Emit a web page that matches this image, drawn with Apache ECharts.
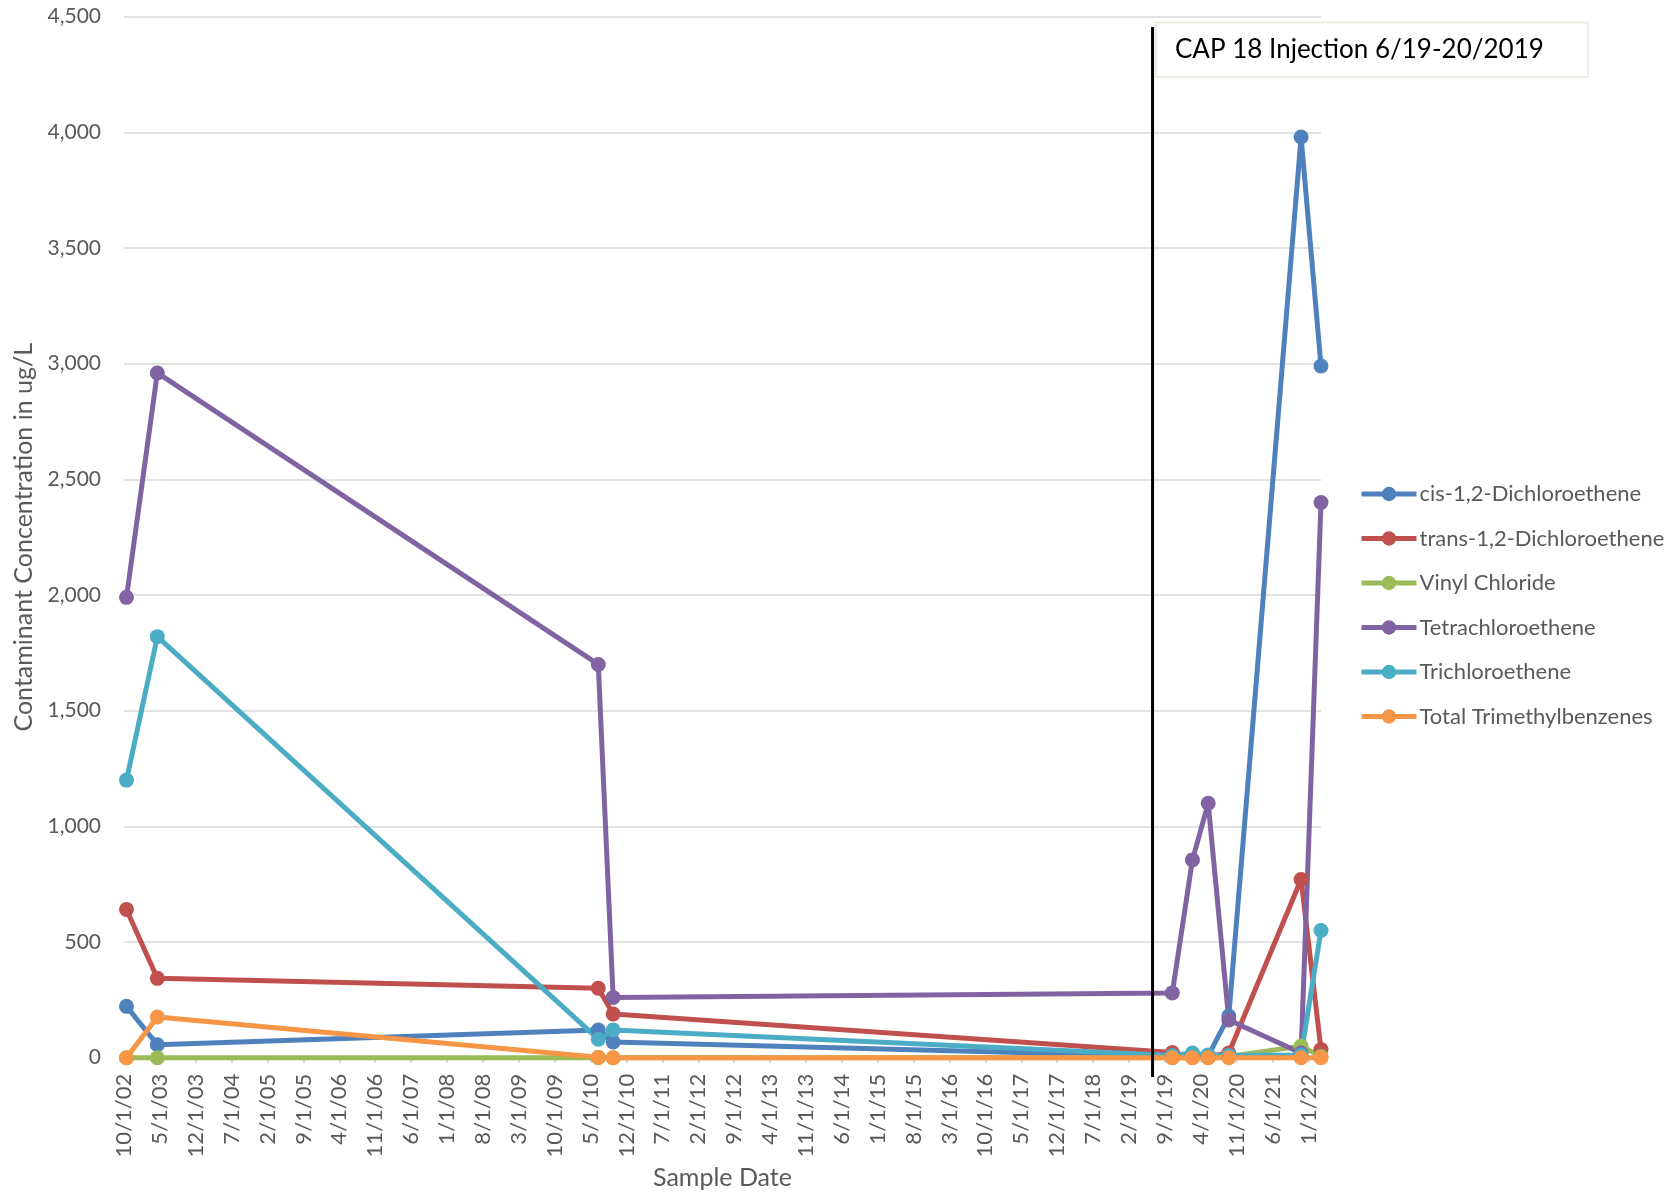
<!DOCTYPE html>
<html>
<head>
<meta charset="utf-8">
<title>Contaminant Concentrations</title>
<script src="https://cdn.jsdelivr.net/npm/echarts@6/dist/echarts.min.js"></script>
<style>
  html, body { margin: 0; padding: 0; background: #ffffff; }
  #chart { width: 1677px; height: 1193px; }
</style>
</head>
<body>
<div id="chart"></div>
<script>
// Sampling dates and measured concentrations (ug/L)
const sampleDates = ['2002-10-16', '2003-04-16', '2010-06-16', '2010-09-13', '2019-10-15',
                     '2020-02-12', '2020-05-15', '2020-09-15', '2021-11-18', '2022-03-15'];
const cisDCE        = [222,   56, 120,  68,   5,   5,    8, 180, 3980, 2990];
const transDCE      = [641,  343, 300, 189,  22,   5,    5,  20,  770,   35];
const vinylChloride = [  0,    0,   0,   0,   0,   0,    0,   5,   50,    5];
const pce           = [1990, 2960, 1700, 260, 280, 855, 1100, 163,   20, 2400];
const tce           = [1200, 1820,  80, 120,  10,  20,   12,  10,   12,  550];
const tmb           = [  0,  176,   2,   0,   0,   0,    0,   0,    0,    0];

const seriesNames = ['cis-1,2-Dichloroethene', 'trans-1,2-Dichloroethene', 'Vinyl Chloride',
                     'Tetrachloroethene', 'Trichloroethene', 'Total Trimethylbenzenes'];
const seriesColors = ['#4F81BD', '#C0504D', '#9BBB59', '#8064A2', '#4BACC6', '#F79646'];

const injectionDate = '2019-06-19';
const injectionText = 'CAP 18 Injection 6/19-20/2019';

// Axis start (10/1/02) and tick spacing in months
const axisStartYear = 2002, axisStartMonth = 10, tickMonths = 7, tickCount = 34;

// Months elapsed since the axis start, with the day as a fraction of its month
function monthOffset(s) {
  const [y, m, d] = s.split('-').map(Number);
  const daysInMonth = new Date(y, m, 0).getDate();
  return (y - axisStartYear) * 12 + (m - axisStartMonth) + (d - 1) / daysInMonth;
}
function offsetLabel(k) {
  const total = axisStartYear * 12 + (axisStartMonth - 1) + Math.round(k);
  const y = Math.floor(total / 12), mo = total % 12 + 1;
  return mo + '/1/' + String(y % 100).padStart(2, '0');
}

const xs = sampleDates.map(monthOffset);
const tickValues = Array.from({ length: tickCount }, (_, i) => i * tickMonths);
const seriesValues = [cisDCE, transDCE, vinylChloride, pce, tce, tmb];

const font = 'Lato, "Open Sans", sans-serif';
const grey = '#595959';

const chart = echarts.init(document.getElementById('chart'), null, { renderer: 'canvas' });

chart.setOption({
  animation: false,
  backgroundColor: '#ffffff',
  textStyle: { fontFamily: font },
  grid: { left: 124, right: 356, top: 16.7, bottom: 135.3, containLabel: false, outerBoundsMode: 'none' },
  xAxis: {
    type: 'value',
    min: 0,
    max: xs[xs.length - 1],
    interval: tickMonths,
    name: 'Sample Date',
    nameLocation: 'middle',
    nameGap: 107,
    nameTextStyle: { fontFamily: font, fontSize: 25, color: grey },
    splitLine: { show: false },
    axisLine: { show: true, lineStyle: { color: '#D9D9D9', width: 1.5 } },
    axisTick: { show: true, length: 5, inside: false, customValues: tickValues,
                lineStyle: { color: '#D9D9D9', width: 2 } },
    axisLabel: {
      customValues: tickValues,
      rotate: 90,
      margin: 16,
      fontFamily: font,
      fontSize: 22,
      color: grey,
      formatter: offsetLabel
    }
  },
  yAxis: {
    type: 'value',
    min: 0,
    max: 4500,
    interval: 500,
    name: 'Contaminant Concentration in ug/L',
    nameLocation: 'middle',
    nameGap: 88,
    nameTextStyle: { fontFamily: font, fontSize: 25, color: grey },
    axisLine: { show: false },
    axisTick: { show: false },
    splitLine: { show: true, lineStyle: { color: '#D9D9D9', width: 1.5 } },
    axisLabel: { margin: 23, fontFamily: font, fontSize: 21, color: grey }
  },
  legend: {
    orient: 'vertical',
    left: 1359,
    top: 483,
    padding: 0,
    itemWidth: 55,
    itemHeight: 18,
    itemGap: 22.5,
    lineStyle: { width: 5 },
    textStyle: { fontFamily: font, fontSize: 22, lineHeight: 18, color: grey, padding: [0, 0, 0, -2] },
    data: seriesNames
  },
  series: seriesNames.map((name, i) => ({
    name: name,
    type: 'line',
    data: xs.map((x, j) => [x, seriesValues[i][j]]),
    symbol: 'circle',
    symbolSize: 15,
    showSymbol: true,
    color: seriesColors[i],
    lineStyle: { width: 5, color: seriesColors[i] },
    itemStyle: { color: seriesColors[i] },
    emphasis: { disabled: true },
    clip: false
  }))
});

// Injection marker line and its caption box
const injX = chart.convertToPixel({ xAxisIndex: 0 }, monthOffset(injectionDate));
chart.setOption({
  graphic: [
    {
      type: 'line',
      shape: { x1: injX, y1: 27, x2: injX, y2: 1077 },
      style: { stroke: '#000000', lineWidth: 3 },
      z: 100
    },
    {
      type: 'rect',
      shape: { x: 1156, y: 22.5, width: 432, height: 54.5 },
      style: { fill: '#ffffff', stroke: '#EEECE1', lineWidth: 2 },
      z: 100
    },
    {
      type: 'text',
      x: 1175,
      y: 50,
      style: { text: injectionText, fontFamily: font, fontSize: 26, fill: '#000000',
               textVerticalAlign: 'middle', verticalAlign: 'middle' },
      z: 101
    }
  ]
});
</script>
</body>
</html>
